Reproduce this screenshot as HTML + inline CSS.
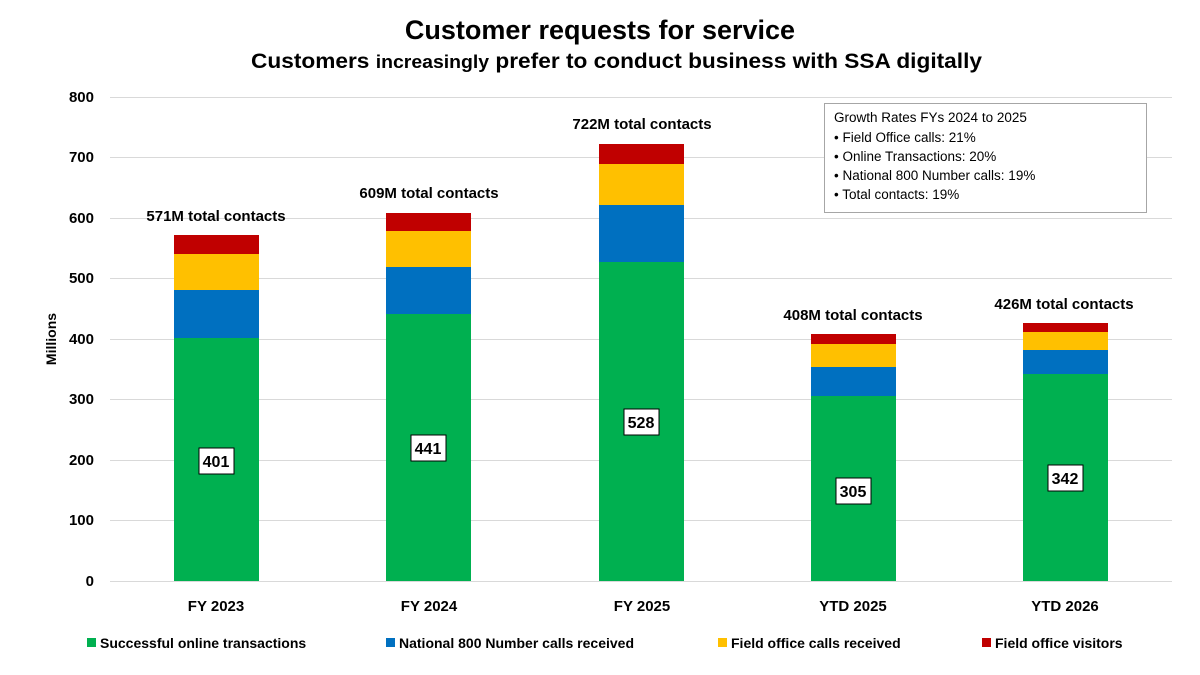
<!DOCTYPE html>
<html><head><meta charset="utf-8"><style>
body{margin:0;background:#fff;}
svg{display:block;font-family:"Liberation Sans",sans-serif;}
</style></head><body>
<svg width="1200" height="675" viewBox="0 0 1200 675">
<rect width="1200" height="675" fill="#fff"/>
<text x="600" y="39" text-anchor="middle" font-size="27" font-weight="bold" fill="#000">Customer requests for service</text>
<text x="251" y="68" textLength="731" lengthAdjust="spacingAndGlyphs" font-size="21" font-weight="bold" fill="#000">Customers <tspan font-size="18">increasingly</tspan> prefer to conduct business with SSA digitally</text>
<g stroke="#d9d9d9" stroke-width="1">
<line x1="110" x2="1172" y1="97.5" y2="97.5"/><line x1="110" x2="1172" y1="157.5" y2="157.5"/>
<line x1="110" x2="1172" y1="218.5" y2="218.5"/><line x1="110" x2="1172" y1="278.5" y2="278.5"/>
<line x1="110" x2="1172" y1="339.5" y2="339.5"/><line x1="110" x2="1172" y1="399.5" y2="399.5"/>
<line x1="110" x2="1172" y1="460.5" y2="460.5"/><line x1="110" x2="1172" y1="520.5" y2="520.5"/>
<line x1="110" x2="1172" y1="581.5" y2="581.5"/>
</g>
<g font-size="15" font-weight="bold" text-anchor="end" fill="#000">
<text x="94" y="102">800</text><text x="94" y="162">700</text><text x="94" y="223">600</text>
<text x="94" y="283">500</text><text x="94" y="344">400</text><text x="94" y="404">300</text>
<text x="94" y="465">200</text><text x="94" y="525">100</text><text x="94" y="586">0</text>
</g>
<text transform="translate(56,339) rotate(-90)" text-anchor="middle" font-size="14" font-weight="bold">Millions</text>
<g>
<rect x="174" y="338" width="85" height="243" fill="#00b050"/><rect x="174" y="290" width="85" height="48" fill="#0070c0"/><rect x="174" y="254" width="85" height="36" fill="#ffc000"/><rect x="174" y="235" width="85" height="19" fill="#c00000"/>
<rect x="386" y="314" width="85" height="267" fill="#00b050"/><rect x="386" y="267" width="85" height="47" fill="#0070c0"/><rect x="386" y="231" width="85" height="36" fill="#ffc000"/><rect x="386" y="213" width="85" height="18" fill="#c00000"/>
<rect x="599" y="262" width="85" height="319" fill="#00b050"/><rect x="599" y="205" width="85" height="57" fill="#0070c0"/><rect x="599" y="164" width="85" height="41" fill="#ffc000"/><rect x="599" y="144" width="85" height="20" fill="#c00000"/>
<rect x="811" y="396" width="85" height="185" fill="#00b050"/><rect x="811" y="367" width="85" height="29" fill="#0070c0"/><rect x="811" y="344" width="85" height="23" fill="#ffc000"/><rect x="811" y="334" width="85" height="10" fill="#c00000"/>
<rect x="1023" y="374" width="85" height="207" fill="#00b050"/><rect x="1023" y="350" width="85" height="24" fill="#0070c0"/><rect x="1023" y="332" width="85" height="18" fill="#ffc000"/><rect x="1023" y="323" width="85" height="9" fill="#c00000"/>
</g>
<g font-size="16" font-weight="bold" text-anchor="middle">
<rect x="199" y="448" width="35" height="26" fill="#fff" stroke="#000"/><text x="216" y="467">401</text>
<rect x="411" y="435" width="35" height="26" fill="#fff" stroke="#000"/><text x="428" y="454">441</text>
<rect x="624" y="409" width="35" height="26" fill="#fff" stroke="#000"/><text x="641" y="428">528</text>
<rect x="836" y="478" width="35" height="26" fill="#fff" stroke="#000"/><text x="853" y="497">305</text>
<rect x="1048" y="465" width="35" height="26" fill="#fff" stroke="#000"/><text x="1065" y="484">342</text>
</g>
<g font-size="15" font-weight="bold" text-anchor="middle">
<text x="216" y="221">571M total contacts</text>
<text x="429" y="198">609M total contacts</text>
<text x="642" y="129">722M total contacts</text>
<text x="853" y="320">408M total contacts</text>
<text x="1064" y="309">426M total contacts</text>
</g>
<g font-size="15" font-weight="bold" text-anchor="middle">
<text x="216" y="611">FY 2023</text><text x="429" y="611">FY 2024</text><text x="642" y="611">FY 2025</text>
<text x="853" y="611">YTD 2025</text><text x="1065" y="611">YTD 2026</text>
</g>
<rect x="824.5" y="103.5" width="322" height="109" fill="#fff" stroke="#a6a6a6"/>
<g font-size="13.5" fill="#000">
<text x="834" y="122">Growth Rates FYs 2024 to 2025</text>
<text x="834" y="142">•  Field Office calls:  21%</text>
<text x="834" y="161">•  Online Transactions:  20%</text>
<text x="834" y="180">•  National 800 Number calls:  19%</text>
<text x="834" y="199">•  Total contacts:  19%</text>
</g>
<g font-size="14" font-weight="bold">
<rect x="87" y="638" width="9" height="9" fill="#00b050"/><text x="100" y="648">Successful online transactions</text>
<rect x="386" y="638" width="9" height="9" fill="#0070c0"/><text x="399" y="648">National 800 Number calls received</text>
<rect x="718" y="638" width="9" height="9" fill="#ffc000"/><text x="731" y="648">Field office calls received</text>
<rect x="982" y="638" width="9" height="9" fill="#c00000"/><text x="995" y="648">Field office visitors</text>
</g>
</svg>
</body></html>
